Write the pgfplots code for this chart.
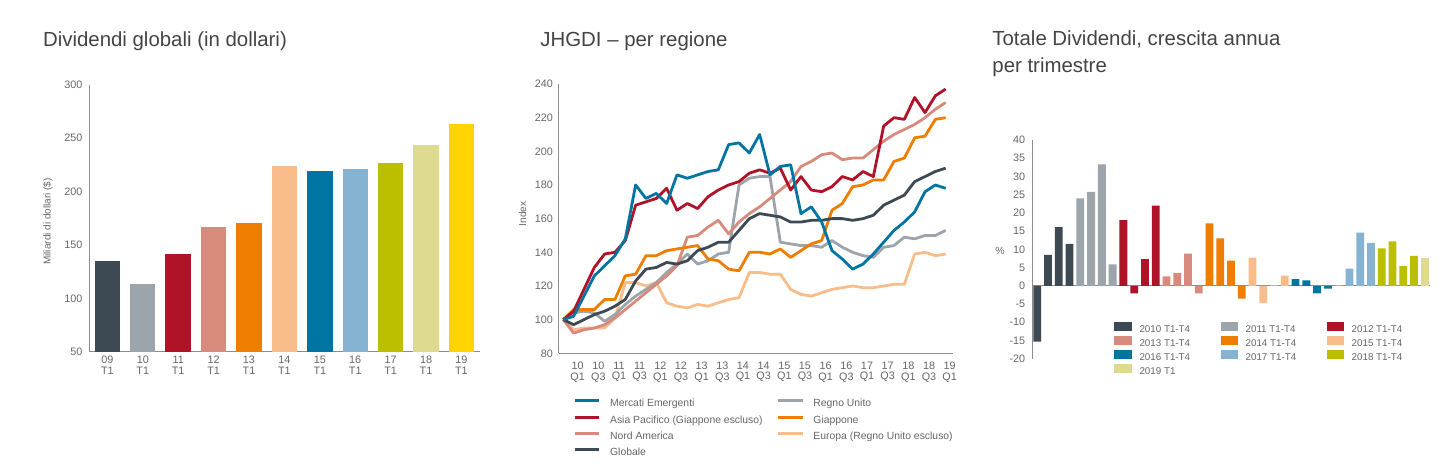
\documentclass[border=0pt]{standalone}
\usepackage{fontspec}
\setmainfont{Liberation Sans}
\usepackage{pgfplots}
\usepackage{pgfplotstable}
\pgfplotsset{compat=1.18}

\definecolor{c1}{HTML}{3D4A53}
\definecolor{c2}{HTML}{9BA5AB}
\definecolor{c3}{HTML}{B01228}
\definecolor{c4}{HTML}{D88A7D}
\definecolor{c5}{HTML}{EE7D00}
\definecolor{c6}{HTML}{F8BD8A}
\definecolor{c7}{HTML}{0075A2}
\definecolor{c8}{HTML}{86B3D1}
\definecolor{c9}{HTML}{BBBF00}
\definecolor{c10}{HTML}{DEDB90}
\definecolor{c11}{HTML}{FFD400}
\definecolor{axisgray}{HTML}{8C8C8C}
\definecolor{ticktext}{HTML}{666666}
\definecolor{titlec}{HTML}{444444}

\pgfplotstableread{
x ME AP NA GL RU JP EU
0 100 100 100 100 100 100 100
1 102 105 92 97 104 106 94
2 114 118 94 100 105 106 95
3 126 131 95 103 104 106 95
4 132 139 97 105 99 112 95
5 138 140 101 108 103 112 101
6 148 147 106 112 109 126 122
7 180 168 111 123 114 127 122
8 172 170 116 130 118 138 120
9 175 172 121 131 122 138 122
10 169 178 126 134 128 141 110
11 186 165 132 133 133 142 108
12 184 169 149 135 139 143 107
13 186 166 150 141 133 144 109
14 188 173 155 143 135 136 108
15 189 177 159 146 139 135 110
16 204 180 151 146 140 130 112
17 205 182 158 153 180 129 113
18 199 187 163 160 184 140 128
19 210 189 167 163 185 140 128
20 186 187 172 162 185 139 127
21 191 190 177 161 146 142 127
22 192 177 182 158 145 137 118
23 163 185 191 158 144 141 115
24 167 177 194 159 144 145 114
25 158 176 198 159 143 147 116
26 141 179 199 160 147 165 118
27 136 185 195 160 143 169 119
28 130 183 196 159 140 179 120
29 133 188 196 160 138 180 119
30 139 185 201 162 137 183 119
31 146 215 206 168 143 183 120
32 153 220 210 171 144 194 121
33 158 219 213 174 149 196 121
34 164 232 216 182 148 208 139
35 176 223 220 185 150 209 140
36 180 233 225 188 150 219 138
37 178 237 229 190 153 220 139
}\regtable

\pgfplotsset{
  myaxis/.style={
    scale only axis,
    anchor=south west,
    axis line style={draw=axisgray, line width=0.5pt},
    major tick length=0pt,
    minor tick length=0pt,
    tick style={draw=none},
    /pgf/number format/assume math mode=true,
    ticklabel style={font=\fontsize{5.4}{5.6}\selectfont, text=ticktext, inner sep=0pt},
  },
  bar1/.style={ybar, bar shift=0pt, bar width=12.7pt, draw=none, fill=#1},
  bar3/.style={ybar, bar shift=0pt, bar width=3.9pt, draw=none, fill=#1},
}

\begin{document}
\begin{tikzpicture}
\path[use as bounding box] (0,0) rectangle (724.5pt,-237pt);

% ---------------- titles -----------------
\node[anchor=base west, inner sep=0pt, font=\fontsize{10.2}{12}\selectfont, text=titlec] at (21.35pt,-23.35pt) {Dividendi globali (in dollari)};
\node[anchor=base west, inner sep=0pt, font=\fontsize{10.2}{12}\selectfont, text=titlec] at (270pt,-23.35pt) {JHGDI – per regione};
\node[anchor=base west, inner sep=0pt, font=\fontsize{10.2}{12}\selectfont, text=titlec] at (496pt,-23pt) {Totale Dividendi, crescita annua};
\node[anchor=base west, inner sep=0pt, font=\fontsize{10.2}{12}\selectfont, text=titlec] at (496pt,-36.15pt) {per trimestre};

% ---------------- panel 1 -----------------
\begin{axis}[myaxis,
  at={(44.65pt,-176pt)}, width=195.1pt, height=133.65pt,
  xmin=-0.51, xmax=10.51, ymin=50, ymax=300,
  ytick={50,100,...,300},
  axis x line*=bottom, axis y line*=left,
  xtick={0,...,10},
  xticklabels={{09\\T1},{10\\T1},{11\\T1},{12\\T1},{13\\T1},{14\\T1},{15\\T1},{16\\T1},{17\\T1},{18\\T1},{19\\T1}},
  xticklabel style={align=center, yshift=-2pt, font=\fontsize{5.4}{5.4}\selectfont},
  yticklabel style={xshift=-3.3pt},
]
\addplot[bar1=c1] coordinates {(0,135)};
\addplot[bar1=c2] coordinates {(1,114)};
\addplot[bar1=c3] coordinates {(2,142)};
\addplot[bar1=c4] coordinates {(3,167)};
\addplot[bar1=c5] coordinates {(4,171)};
\addplot[bar1=c6] coordinates {(5,224)};
\addplot[bar1=c7] coordinates {(6,219)};
\addplot[bar1=c8] coordinates {(7,221.5)};
\addplot[bar1=c9] coordinates {(8,226.5)};
\addplot[bar1=c10] coordinates {(9,244)};
\addplot[bar1=c11] coordinates {(10,263)};
\end{axis}
\node[rotate=90, inner sep=0pt, font=\fontsize{5}{6}\selectfont, text=ticktext] at (24pt,-110.75pt) {Miliardi di dollari (\$)};

% ---------------- panel 2 -----------------
\begin{axis}[myaxis,
  at={(279.35pt,-176.65pt)}, width=197.15pt, height=134.65pt,
  xmin=-0.445, xmax=37.71, ymin=80, ymax=240,
  ytick={80,100,...,240},
  axis x line*=bottom, axis y line*=left,
  xtick={1,3,...,37},
  xticklabels={{10\\Q1},{10\\Q3},{11\\Q1},{11\\Q3},{12\\Q1},{12\\Q3},{13\\Q1},{13\\Q3},{14\\Q1},{14\\Q3},{15\\Q1},{15\\Q3},{16\\Q1},{16\\Q3},{17\\Q1},{17\\Q3},{18\\Q1},{18\\Q3},{19\\Q1}},
  xticklabel style={align=center, yshift=-4.2pt, xshift=2pt, font=\fontsize{5.4}{5.2}\selectfont},
  yticklabel style={xshift=-2.7pt},
  legend columns=2,
  legend cell align=left,
  legend style={at={(0.0355,-0.170)}, anchor=north west, draw=none, fill=none,
    inner sep=0pt, row sep=3.2pt,
    font=\fontsize{5.2}{6}\selectfont, text=ticktext,
    nodes={inner sep=0pt, text height=3.7pt, text depth=1.1pt},
    /tikz/every odd column/.append style={column sep=4.7pt},
    /tikz/every even column/.append style={column sep=3.15pt}},
  legend image code/.code={\draw[#1] (0pt,1.7pt) -- (12.3pt,1.7pt);},
  line join=round,
]
\addplot[c6, line width=1.4pt, forget plot] table[x=x, y=EU] {\regtable};
\addplot[c2, line width=1.4pt, forget plot] table[x=x, y=RU] {\regtable};
\addplot[c4, line width=1.4pt, forget plot] table[x=x, y=NA] {\regtable};
\addplot[c5, line width=1.4pt, forget plot] table[x=x, y=JP] {\regtable};
\addplot[c1, line width=1.4pt, forget plot] table[x=x, y=GL] {\regtable};
\addplot[c3, line width=1.4pt, forget plot] table[x=x, y=AP] {\regtable};
\addplot[c7, line width=1.4pt, forget plot] table[x=x, y=ME] {\regtable};
\addlegendimage{c7, line width=1.5pt}\addlegendentry{\makebox[80pt][l]{Mercati Emergenti}}
\addlegendimage{c2, line width=1.5pt}\addlegendentry{Regno Unito}
\addlegendimage{c3, line width=1.5pt}\addlegendentry{\makebox[80pt][l]{Asia Pacifico (Giappone escluso)}}
\addlegendimage{c5, line width=1.5pt}\addlegendentry{Giappone}
\addlegendimage{c4, line width=1.5pt}\addlegendentry{\makebox[80pt][l]{Nord America}}
\addlegendimage{c6, line width=1.5pt}\addlegendentry{Europa (Regno Unito escluso)}
\addlegendimage{c1, line width=1.5pt}\addlegendentry{\makebox[80pt][l]{Globale}}
\end{axis}
\node[rotate=90, inner sep=0pt, font=\fontsize{5}{6}\selectfont, text=ticktext] at (261.3pt,-107pt) {Index};

% ---------------- panel 3 -----------------
\begin{axis}[myaxis,
  at={(516pt,-179.35pt)}, width=199pt, height=109.35pt,
  xmin=-0.49, xmax=36.49, ymin=-20, ymax=40,
  ytick={-20,-15,...,40},
  axis x line*=middle, axis y line*=left,
  xtick=\empty,
  yticklabel style={xshift=-3.2pt},
  legend columns=3,
  legend cell align=left,
  legend style={at={(0.206,0.169)}, anchor=north west, draw=none, fill=none,
    inner sep=0pt, row sep=1.25pt,
    font=\fontsize{4.9}{6}\selectfont, text=ticktext,
    nodes={inner sep=0pt, text height=3.6pt, text depth=0.6pt},
    /tikz/every odd column/.append style={column sep=3.85pt},
    /tikz/every even column/.append style={column sep=2.5pt}},
  legend image code/.code={\fill[#1] (0pt,-0.5pt) rectangle (8.7pt,3.7pt);},
]
\addplot[bar3=c1] coordinates {(0,-15.3) (1,8.5) (2,16.1) (3,11.5)};
\addlegendentry{\makebox[38pt][l]{2010 T1-T4}}
\addplot[bar3=c2] coordinates {(4,24.0) (5,25.8) (6,33.3) (7,5.9)};
\addlegendentry{\makebox[38pt][l]{2011 T1-T4}}
\addplot[bar3=c3] coordinates {(8,18.0) (9,-2.1) (10,7.3) (11,22.0)};
\addlegendentry{\makebox[38pt][l]{2012 T1-T4}}
\addplot[bar3=c4] coordinates {(12,2.6) (13,3.5) (14,8.8) (15,-2.1)};
\addlegendentry{\makebox[38pt][l]{2013 T1-T4}}
\addplot[bar3=c5] coordinates {(16,17.1) (17,13.0) (18,6.9) (19,-3.5)};
\addlegendentry{\makebox[38pt][l]{2014 T1-T4}}
\addplot[bar3=c6] coordinates {(20,7.7) (21,-4.7) (22,0.1) (23,2.8)};
\addlegendentry{\makebox[38pt][l]{2015 T1-T4}}
\addplot[bar3=c7] coordinates {(24,1.8) (25,1.5) (26,-2.1) (27,-0.8)};
\addlegendentry{\makebox[38pt][l]{2016 T1-T4}}
\addplot[bar3=c8] coordinates {(28,0.2) (29,4.7) (30,14.6) (31,11.8)};
\addlegendentry{\makebox[38pt][l]{2017 T1-T4}}
\addplot[bar3=c9] coordinates {(32,10.3) (33,12.2) (34,5.4) (35,8.2)};
\addlegendentry{\makebox[38pt][l]{2018 T1-T4}}
\addplot[bar3=c10] coordinates {(36,7.7)};
\addlegendentry{\makebox[38pt][l]{2019 T1}}
\end{axis}
\node[inner sep=0pt, font=\fontsize{5.2}{6}\selectfont, text=ticktext] at (500pt,-125.5pt) {\%};

\end{tikzpicture}
\end{document}
